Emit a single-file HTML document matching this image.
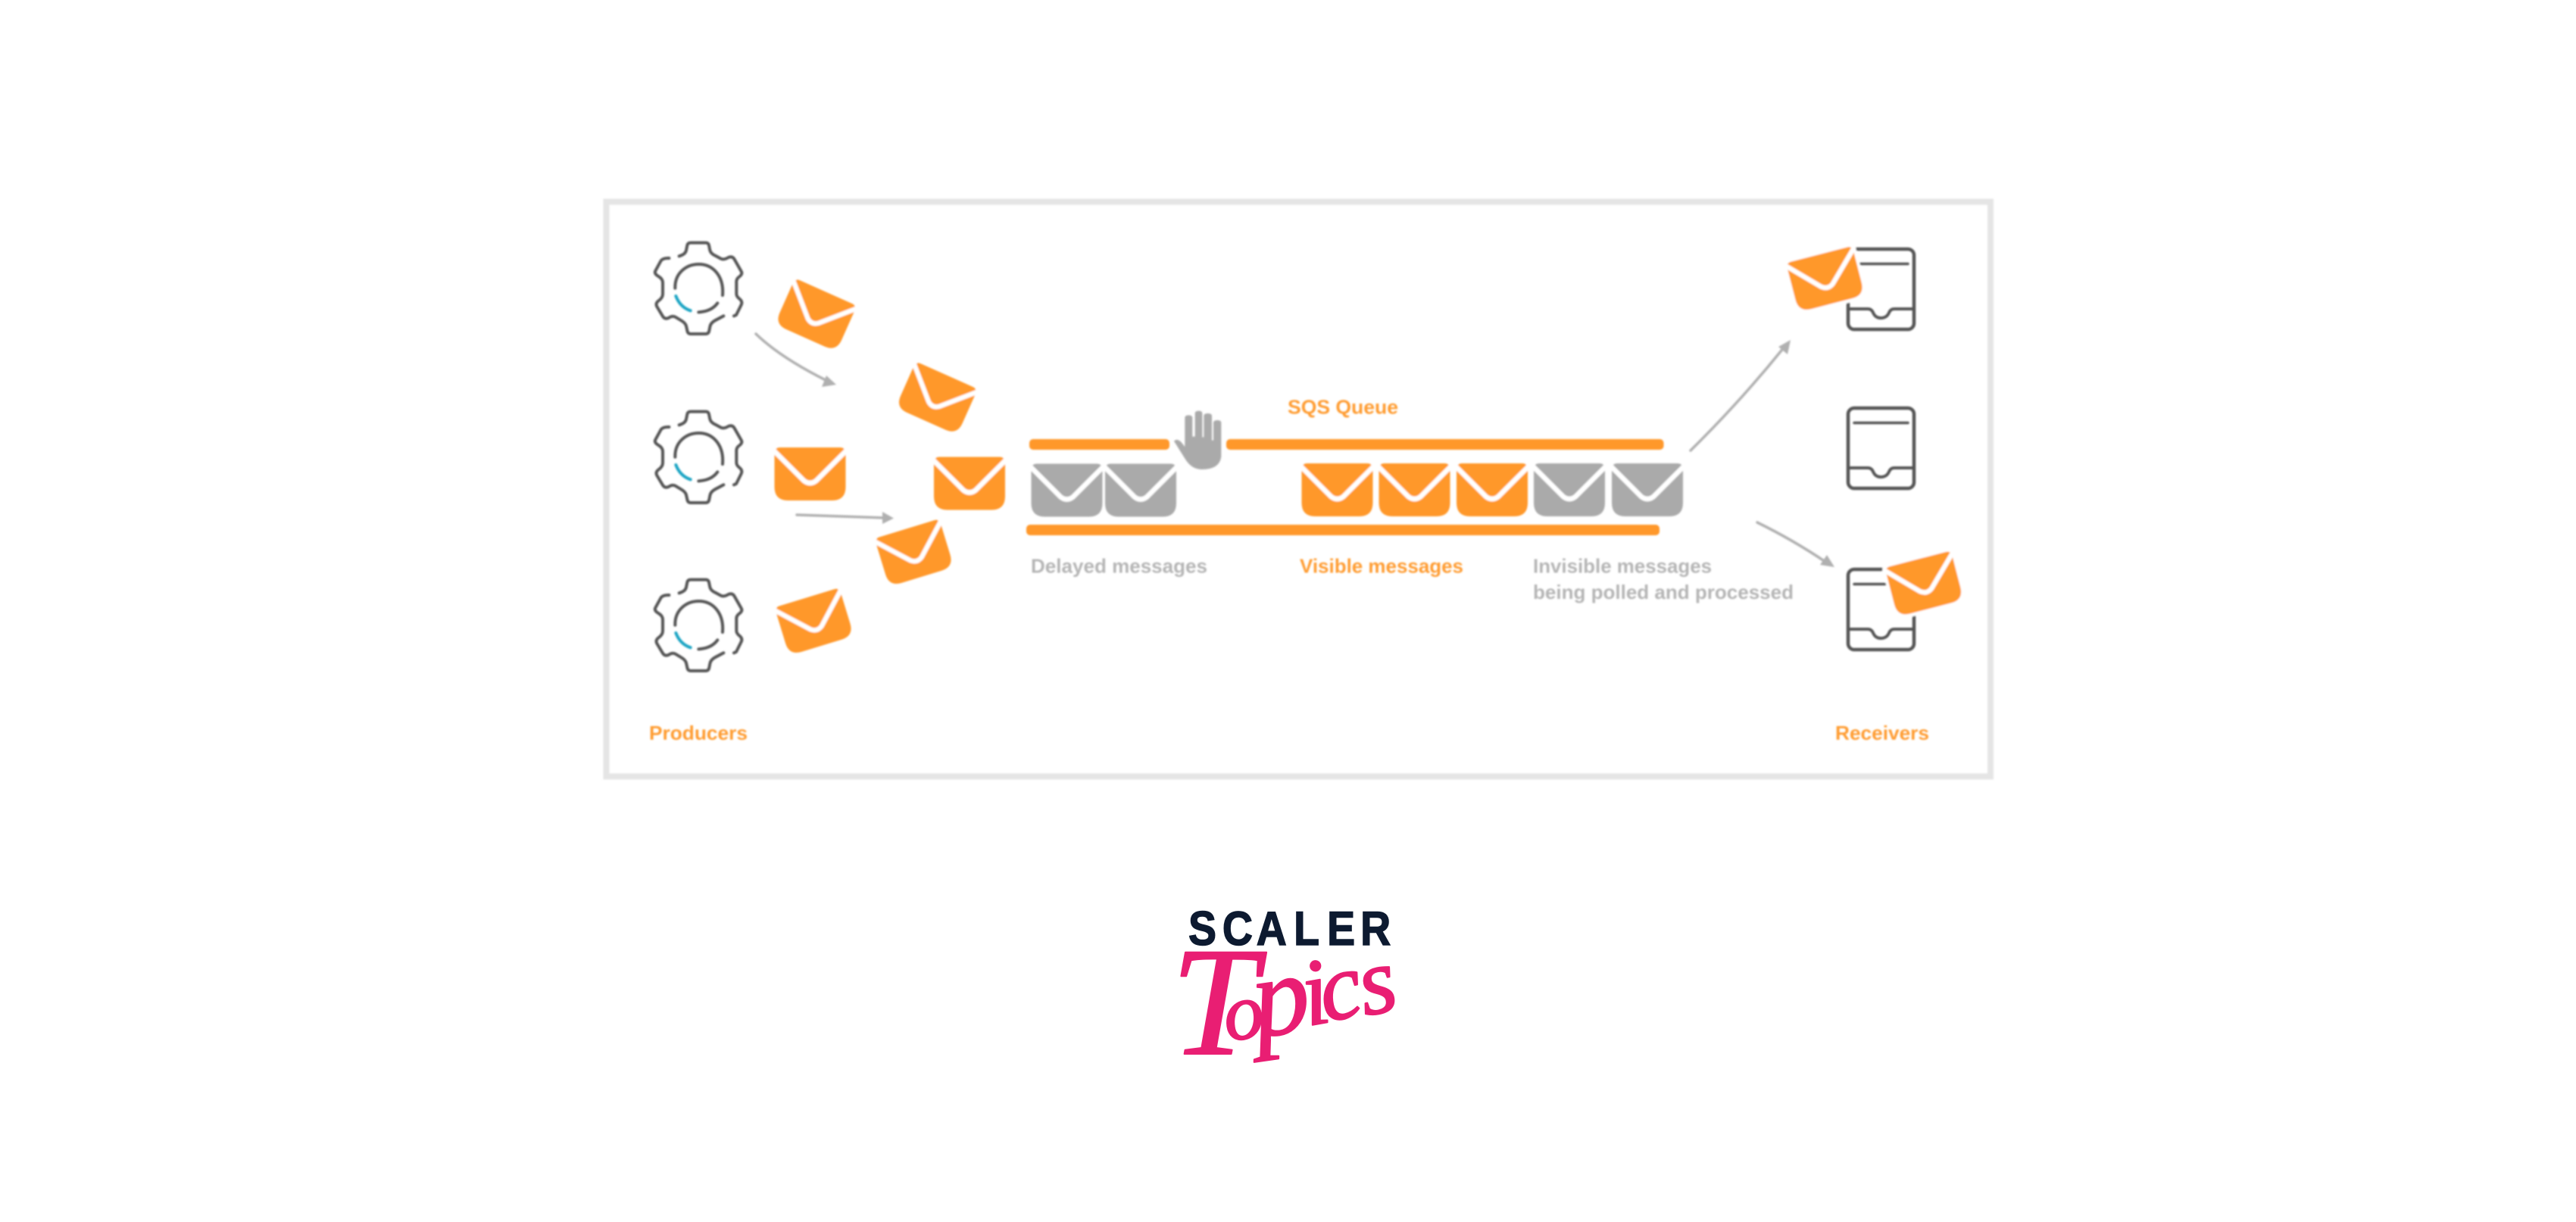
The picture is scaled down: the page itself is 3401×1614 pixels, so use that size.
<!DOCTYPE html>
<html><head><meta charset="utf-8"><title>SQS Queue</title>
<style>html,body{margin:0;padding:0;background:#fff;width:3401px;height:1614px;overflow:hidden}svg{display:block}</style>
</head><body>
<svg xmlns="http://www.w3.org/2000/svg" width="3401" height="1614" viewBox="0 0 3401 1614">
<defs>
<filter id="b" x="-5%" y="-5%" width="110%" height="110%"><feGaussianBlur stdDeviation="1"/></filter>
<g id="env">
<path d="M-40 -35H40Q45 -35 47 -30V17Q47 35 29 35H-29Q-47 35 -47 17V-30Q-45 -35 -40 -35Z"/>
<path d="M-48 -31L-8 9Q0 15 8 9L48 -31" fill="none" stroke="#fff" stroke-width="6.500" stroke-linecap="round"/>
</g>
<g id="gear" transform="scale(0.3333)" fill="none" stroke="#555" stroke-width="12" stroke-linecap="round" stroke-linejoin="round">
<path d="M140 85Q165 78 168 62L172 42Q174 32 186 32H245Q256 32 258 42L262 62Q266 76 285 84L305 95Q318 101 335 90Q350 84 358 96L386 145Q392 155 380 165Q365 175 367 190V232Q366 245 380 255Q392 265 386 278L366 318L357 322"/>
<path d="M316 322L282 340Q264 350 262 365L259 380Q257 393 245 393H186Q174 393 172 380L168 362Q165 350 148 340L125 326Q112 320 98 330Q84 336 76 325L52 285Q45 272 58 262Q75 250 75 235V190Q75 175 58 165Q40 155 46 143L68 103Q76 92 100 93"/>
<path d="M124 212C122 155 165 117 218 117C275 117 318 165 312 240"/>
<path d="M217 307C250 305 275 295 292 271"/>
<path d="M127 243C138 272 158 292 185 301" stroke="#1fa5c4"/>
</g>
<g id="tray" fill="none" stroke="#555" stroke-width="4" stroke-linecap="round">
<rect x="2" y="2" width="87" height="106" rx="8" stroke-width="4.500"/>
<path d="M10 21.500H81" stroke-width="3.500"/>
<path d="M2 81H28Q33 81 35 86Q38 93 45 93Q53 93 56 86Q58 81 63 81H89"/>
</g>
</defs>

<g filter="url(#b)">
<rect x="800.500" y="266.500" width="1827.500" height="759" fill="none" stroke="#e5e5e5" stroke-width="8"/>

<use href="#gear" transform="translate(850 310)"/>
<use href="#gear" transform="translate(850 533)"/>
<use href="#gear" transform="translate(850 755)"/>

<g fill="#ff982b">
<use href="#env" transform="translate(1077 416) rotate(24) scale(.95)"/>
<use href="#env" transform="translate(1236.500 526) rotate(24) scale(.95)"/>
<use href="#env" transform="translate(1069.500 626)"/>
<use href="#env" transform="translate(1280 638.500)"/>
<use href="#env" transform="translate(1207 730) rotate(-17) scale(.95)"/>
<use href="#env" transform="translate(1075 821) rotate(-17) scale(.95)"/>
<use href="#env" transform="translate(1765.500 647)"/>
<use href="#env" transform="translate(1867.500 647)"/>
<use href="#env" transform="translate(1970 647)"/>
</g>
<g fill="#aaa">
<use href="#env" transform="translate(1408.500 647.500)"/>
<use href="#env" transform="translate(1506 647.500)"/>
<use href="#env" transform="translate(2072 647)"/>
<use href="#env" transform="translate(2175 647)"/>
</g>

<g fill="#ff982b">
<rect x="1359" y="580" width="185" height="14" rx="5"/>
<rect x="1619" y="580" width="577.500" height="14" rx="5"/>
<rect x="1355" y="693" width="836" height="14" rx="5"/>
</g>

<path transform="translate(1530 520) scale(.3333)" fill="#aaa" d="M103 95Q103 85 118 85Q133 85 133 95V170H143V78Q143 68 158 68Q172 68 172 78V172H178V88Q178 78 194 78Q210 78 210 88V185H216V115Q216 105 232 105Q247 105 247 115V250Q240 300 170 300Q130 300 105 260L60 188Q70 176 87 190L103 210Z"/>

<g fill="none" stroke="#b0b0b0" stroke-width="3.500" stroke-linecap="round">
<path d="M998 441Q1030 472 1092 503"/>
<path d="M1052 680L1168 684"/>
<path d="M2232 595Q2298 530 2356 458"/>
<path d="M2320 690Q2367 713 2410 742"/>
</g>
<g fill="#b0b0b0">
<path d="M1104 508L1085 511L1091 496Z"/>
<path d="M1180 684.500L1165 676V692Z"/>
<path d="M2364 449L2360 468L2348 458Z"/>
<path d="M2422 749L2403 746L2412 733Z"/>
</g>

<use href="#tray" transform="translate(2438 327)"/>
<use href="#tray" transform="translate(2438 537)"/>
<use href="#tray" transform="translate(2438 750)"/>

<rect x="-49" y="-38" width="98" height="76" rx="8" fill="#fff" transform="translate(2410 368.600) rotate(-14.500)"/>
<use href="#env" fill="#ff982b" transform="translate(2410 368.600) rotate(-14.500) scale(.96)"/>
<rect x="-49" y="-38" width="98" height="76" rx="8" fill="#fff" transform="translate(2540.500 771) rotate(-14.500)"/>
<use href="#env" fill="#ff982b" transform="translate(2540.500 771) rotate(-14.500) scale(.96)"/>

<g font-family="'Liberation Sans',sans-serif" font-weight="bold" font-size="26" fill="#ff9c33">
<text x="857" y="977" textLength="130" lengthAdjust="spacingAndGlyphs">Producers</text>
<text x="2423" y="977" textLength="124" lengthAdjust="spacingAndGlyphs">Receivers</text>
<text x="1700" y="546.500" textLength="146" lengthAdjust="spacingAndGlyphs">SQS Queue</text>
<text x="1716" y="756.500" textLength="216" lengthAdjust="spacingAndGlyphs">Visible messages</text>
</g>
<g font-family="'Liberation Sans',sans-serif" font-weight="bold" font-size="26" fill="#b5b5b5">
<text x="1361" y="756.500" textLength="233" lengthAdjust="spacingAndGlyphs">Delayed messages</text>
<text x="2024" y="756.500" textLength="236" lengthAdjust="spacingAndGlyphs">Invisible messages</text>
<text x="2024" y="791" textLength="344" lengthAdjust="spacingAndGlyphs">being polled and processed</text>
</g>
</g>

<text transform="scale(.88 1)" font-family="'Liberation Sans',sans-serif" font-weight="bold" font-size="63" fill="#0d1a30" stroke="#0d1a30" stroke-width="1.500" x="1783 1834 1885 1941 1991 2041" y="1248">SCALER</text>

<text font-family="'Liberation Serif',serif" font-style="italic" fill="#e91e73" stroke="#e91e73" stroke-width="2" stroke-linejoin="round"><tspan font-size="205" x="1546" y="1392">T</tspan><tspan font-size="105" x="1620" y="1375" rotate="-8">o</tspan><tspan font-size="150" x="1660" y="1370" rotate="-8">p</tspan><tspan font-size="125" x="1726 1750 1802" y="1355 1350 1342" rotate="-10 -12 -12">ics</tspan></text>
</svg>
</body></html>
